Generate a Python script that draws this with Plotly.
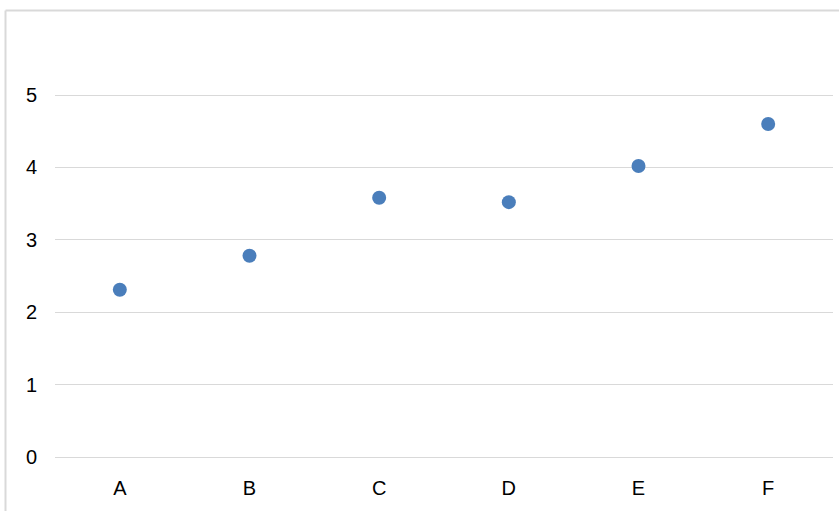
import plotly.graph_objects as go

categories = ["A", "B", "C", "D", "E", "F"]
values = [2.31, 2.78, 3.58, 3.52, 4.02, 4.60]
y_ticks = [0, 1, 2, 3, 4, 5]

W, H = 839, 511
# plot area: y=0 at 457px, y=5 at 95px, padded 2px each side so edge gridlines show
L, R, T, B = 55, 6, 93, 52
pw, ph = W - L - R, H - T - B
pad = 2 * 5 / 362

fig = go.Figure()
fig.add_trace(go.Scatter(
    x=categories, y=values, mode="markers",
    marker=dict(size=14, color="#4a7ebb", line=dict(width=0)),
    showlegend=False, hoverinfo="x+y",
))

# chart frame (left and top edges visible)
fx = (5.5 - L) / pw
fy = 1 + (T - 10.5) / ph
fig.add_shape(type="line", xref="paper", yref="paper", x0=fx, x1=fx, y0=-1, y1=fy,
              line=dict(color="#d9d9d9", width=2))
fig.add_shape(type="line", xref="paper", yref="paper", x0=fx, x1=2, y0=fy, y1=fy,
              line=dict(color="#d9d9d9", width=2))

fig.update_layout(
    width=W, height=H,
    margin=dict(l=L, r=R, t=T, b=B, pad=0),
    paper_bgcolor="white", plot_bgcolor="white",
    font=dict(family="Liberation Sans, Arial, sans-serif", size=20, color="#000000"),
    xaxis=dict(
        type="category", range=[-0.5, 5.5], showgrid=False, zeroline=False,
        showline=False, ticks="", ticklabelstandoff=15,
    ),
    yaxis=dict(
        range=[-pad, 5 + pad], tickvals=y_ticks, showgrid=True, gridcolor="#d9d9d9",
        gridwidth=1, zeroline=False, showline=False, ticks="", ticklabelstandoff=17,
    ),
)

fig.write_html("out.html")
